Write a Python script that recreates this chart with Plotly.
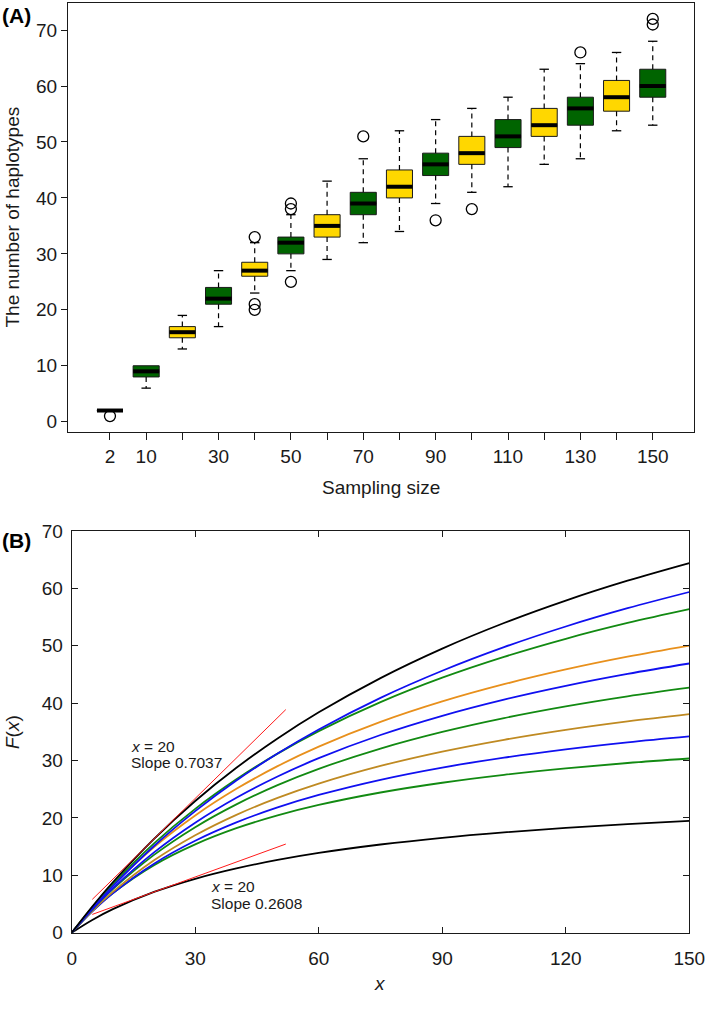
import plotly.graph_objects as go

# ---------------- Panel A data (box statistics) ----------------
sizes = [2, 10, 20, 30, 40, 50, 60, 70, 80, 90, 100, 110, 120, 130, 140, 150]
size_labels = ["2", "10", "", "30", "", "50", "", "70", "", "90", "", "110", "", "130", "", "150"]
q1 = [2, 8, 15, 21, 26, 30, 33, 37, 40, 44, 46, 49, 51, 53, 55.5, 58]
med = [2, 9, 16, 22, 27, 32, 35, 39, 42, 46, 48, 51, 53, 56, 58, 60]
q3 = [2, 10, 17, 24, 28.5, 33, 37, 41, 45, 48, 51, 54, 56, 58, 61, 63]
whisk_lo = [2, 6, 13, 17, 23, 27, 29, 32, 34, 39, 41, 42, 46, 47, 52, 53]
whisk_hi = [2, 10, 19, 27, 32, 37, 43, 47, 52, 54, 56, 58, 63, 64, 66, 68]
outlier_size = [2, 40, 40, 40, 50, 50, 50, 70, 90, 100, 130, 150, 150]
outlier_val = [1, 20, 21, 33, 25, 38, 39, 51, 36, 38, 66, 71, 72]

# ---------------- Panel B data (curve values) ----------------
xs = [0, 5, 10, 20, 30, 40, 50, 60, 75, 90, 105, 120, 135, 150]
curve_black_top = [0, 4.57, 8.79, 16.36, 22.95, 28.73, 33.84, 38.40, 44.37, 49.51, 53.97, 57.88, 61.34, 64.42]
curve_blue_1 = [0, 4.22, 8.12, 15.11, 21.18, 26.51, 31.22, 35.42, 40.93, 45.65, 49.76, 53.36, 56.54, 59.37]
curve_green_1 = [0, 4.44, 8.48, 15.57, 21.58, 26.73, 31.21, 35.13, 40.18, 44.44, 48.07, 51.22, 53.97, 56.38]
curve_orange_1 = [0, 4.35, 8.24, 14.92, 20.43, 25.07, 29.02, 32.42, 36.73, 40.30, 43.30, 45.87, 48.09, 50.02]
curve_blue_2 = [0, 4.08, 7.74, 14.00, 19.17, 23.52, 27.22, 30.41, 34.45, 37.80, 40.62, 43.02, 45.10, 46.91]
curve_green_2 = [0, 4.03, 7.59, 13.56, 18.39, 22.37, 25.71, 28.55, 32.09, 34.99, 37.40, 39.44, 41.19, 42.70]
curve_orange_2 = [0, 3.80, 7.12, 12.61, 16.98, 20.54, 23.49, 25.98, 29.06, 31.56, 33.62, 35.35, 36.83, 38.10]
curve_blue_3 = [0, 3.71, 6.88, 12.03, 16.02, 19.22, 21.83, 24.00, 26.65, 28.78, 30.51, 31.96, 33.18, 34.22]
curve_green_3 = [0, 3.78, 6.90, 11.78, 15.40, 18.21, 20.44, 22.26, 24.43, 26.13, 27.50, 28.63, 29.57, 30.36]
curve_black_bottom = [0, 2.22, 4.10, 7.10, 9.40, 11.21, 12.68, 13.90, 15.37, 16.54, 17.48, 18.27, 18.93, 19.50]

tangent_x_point = 20
tangent_x_span = [5, 52]
tangent_y_at_point = [16.36, 7.10]
tangent_slopes = [0.7037, 0.2608]

FONT = "Liberation Sans, Arial, sans-serif"
YELLOW = "#FFD700"
GREEN = "#006400"
INK = "#1a1a1a"

fig = go.Figure()

# ---- Panel A: boxes ----
idx = list(range(len(sizes)))
for parity, color in ((0, YELLOW), (1, GREEN)):
    sel = [i for i in idx if i % 2 == parity]
    fig.add_trace(go.Box(
        x=sel,
        q1=[q1[i] for i in sel], median=[med[i] for i in sel], q3=[q3[i] for i in sel],
        lowerfence=[q1[i] for i in sel], upperfence=[q3[i] for i in sel],
        width=0.72, fillcolor=color, line=dict(color=INK, width=1),
        whiskerwidth=0, boxpoints=False, showlegend=False, hoverinfo="skip",
        xaxis="x", yaxis="y",
    ))

# dashed whiskers
wx, wy = [], []
for i in idx:
    if whisk_hi[i] > q3[i]:
        wx += [i, i, None]; wy += [q3[i], whisk_hi[i], None]
    if whisk_lo[i] < q1[i]:
        wx += [i, i, None]; wy += [q1[i], whisk_lo[i], None]
fig.add_trace(go.Scatter(x=wx, y=wy, mode="lines", line=dict(color="black", width=1.2, dash="5px,4px"),
                         showlegend=False, hoverinfo="skip", xaxis="x", yaxis="y"))
# whisker caps
cx, cy = [], []
cap = 0.13
for i in idx:
    if whisk_hi[i] > q3[i]:
        cx += [i - cap, i + cap, None]; cy += [whisk_hi[i], whisk_hi[i], None]
    if whisk_lo[i] < q1[i]:
        cx += [i - cap, i + cap, None]; cy += [whisk_lo[i], whisk_lo[i], None]
fig.add_trace(go.Scatter(x=cx, y=cy, mode="lines", line=dict(color="black", width=1.3),
                         showlegend=False, hoverinfo="skip", xaxis="x", yaxis="y"))
# thick medians
mx, my = [], []
for i in idx:
    mx += [i - 0.36, i + 0.36, None]; my += [med[i], med[i], None]
fig.add_trace(go.Scatter(x=mx, y=my, mode="lines", line=dict(color="black", width=4),
                         showlegend=False, hoverinfo="skip", xaxis="x", yaxis="y"))
# outliers
fig.add_trace(go.Scatter(x=[sizes.index(s) for s in outlier_size], y=outlier_val, mode="markers",
                         marker=dict(symbol="circle-open", size=11, color="black", line=dict(width=1.3)),
                         showlegend=False, hoverinfo="skip", xaxis="x", yaxis="y"))

# ---- Panel B: curves ----
curves = [
    (curve_black_bottom, "black"),
    (curve_green_3, "#128a12"),
    (curve_blue_3, "#1010f0"),
    (curve_orange_2, "#bf8a22"),
    (curve_green_2, "#128a12"),
    (curve_blue_2, "#1010f0"),
    (curve_orange_1, "#e8901c"),
    (curve_green_1, "#128a12"),
    (curve_blue_1, "#1010f0"),
    (curve_black_top, "black"),
]
for ys, col in curves:
    fig.add_trace(go.Scatter(x=xs, y=ys, mode="lines", line=dict(color=col, width=1.8, shape="spline", smoothing=1.0),
                             showlegend=False, hoverinfo="skip", xaxis="x2", yaxis="y2"))

for y0, s in zip(tangent_y_at_point, tangent_slopes):
    tx = tangent_x_span
    ty = [y0 + s * (t - tangent_x_point) for t in tx]
    fig.add_trace(go.Scatter(x=tx, y=ty, mode="lines", line=dict(color="#ff1a1a", width=1),
                             showlegend=False, hoverinfo="skip", xaxis="x2", yaxis="y2"))

W, H = 709, 1029
top_x = [68 / W, 694 / W]
top_y = [1 - 432 / H, 1 - 3 / H]
bot_x = [71.7 / W, 689.3 / W]
bot_y = [1 - 932.7 / H, 1 - 531 / H]

tickfont = dict(family=FONT, size=19, color=INK)
common = dict(tickwidth=1, tickcolor=INK, showline=True, linecolor=INK, linewidth=1,
              showgrid=False, zeroline=False, tickfont=tickfont, automargin=False)

fig.update_layout(
    width=W, height=H, margin=dict(l=0, r=0, t=0, b=0, autoexpand=False),
    paper_bgcolor="white", plot_bgcolor="white", boxmode="overlay",
    font=dict(family=FONT, color=INK),
    xaxis=dict(domain=top_x, anchor="y", range=[-1.16, 16.14], tickmode="array",
               tickvals=idx, ticktext=size_labels, ticks="outside", ticklen=7, mirror=True, **common),
    yaxis=dict(domain=top_y, anchor="x", range=[-1.84, 74.84], tickvals=[0, 10, 20, 30, 40, 50, 60, 70],
               ticks="outside", ticklen=6, mirror=True, **common),
    xaxis2=dict(domain=bot_x, anchor="y2", range=[0, 150], tickvals=[0, 30, 60, 90, 120, 150],
                ticks="inside", ticklen=6, mirror="ticks", ticklabelstandoff=8, **common),
    yaxis2=dict(domain=bot_y, anchor="x2", range=[0, 70], tickvals=[0, 10, 20, 30, 40, 50, 60, 70],
                ticks="inside", ticklen=6, mirror="ticks", ticklabelstandoff=4, **common),
)

title_font = dict(family=FONT, size=19, color=INK)
ann_font = dict(family=FONT, size=15.5, color=INK)
annotations = [
    dict(text="<b>(A)</b>", x=0, y=1 - 15 / H, xref="paper", yref="paper", xanchor="left", yanchor="middle",
         showarrow=False, font=dict(family=FONT, size=21, color="black")),
    dict(text="<b>(B)</b>", x=0, y=1 - 540 / H, xref="paper", yref="paper", xanchor="left", yanchor="middle",
         showarrow=False, font=dict(family=FONT, size=21, color="black")),
    # axis titles
    dict(text="The number of haplotypes", x=12 / W, y=1 - 217.5 / H, xref="paper", yref="paper",
         xanchor="center", yanchor="middle", textangle=-90, showarrow=False, font=title_font),
    dict(text="Sampling size", x=381 / W, y=1 - 487 / H, xref="paper", yref="paper",
         xanchor="center", yanchor="middle", showarrow=False, font=title_font),
    dict(text="<i>F</i>(<i>x</i>)", x=12 / W, y=1 - 732 / H, xref="paper", yref="paper",
         xanchor="center", yanchor="middle", textangle=-90, showarrow=False, font=title_font),
    dict(text="<i>x</i>", x=380 / W, y=1 - 983 / H, xref="paper", yref="paper",
         xanchor="center", yanchor="middle", showarrow=False, font=title_font),
    # tangent labels
    dict(text="<i>x</i> = 20", x=13.9, y=32.5, xref="x2", yref="y2", xanchor="left", yanchor="middle",
         showarrow=False, font=ann_font),
    dict(text="Slope 0.7037", x=13.9, y=29.6, xref="x2", yref="y2", xanchor="left", yanchor="middle",
         showarrow=False, font=ann_font),
    dict(text="<i>x</i> = 20", x=33.35, y=8.0, xref="x2", yref="y2", xanchor="left", yanchor="middle",
         showarrow=False, font=ann_font),
    dict(text="Slope 0.2608", x=33.35, y=5.1, xref="x2", yref="y2", xanchor="left", yanchor="middle",
         showarrow=False, font=ann_font),
]
fig.update_layout(annotations=annotations)

# remove the browser's default 8px page margin so the figure sits at the window's corner
fig.write_html("out.html", config={"displayModeBar": False},
               post_script="document.body.style.margin='0';document.body.style.overflow='hidden';")
